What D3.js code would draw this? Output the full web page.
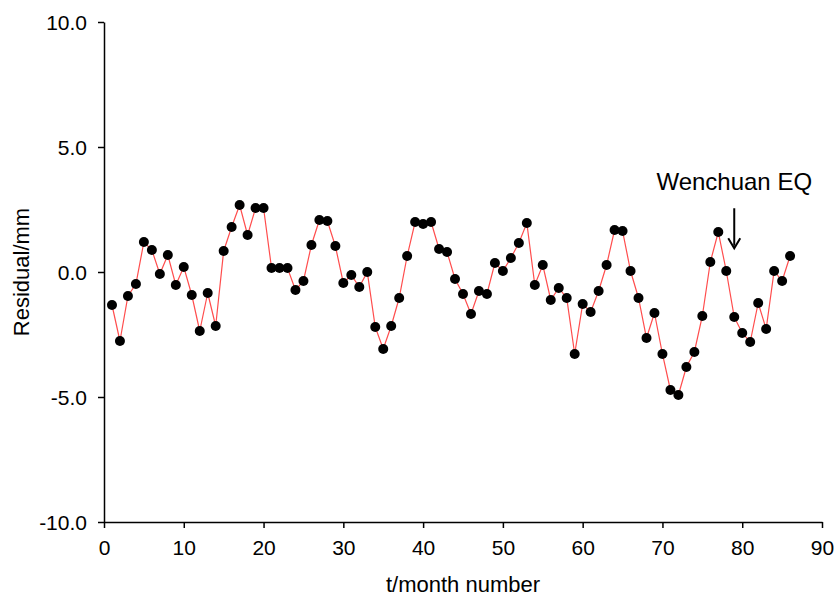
<!DOCTYPE html>
<html>
<head>
<meta charset="utf-8">
<script src="https://cdn.jsdelivr.net/npm/d3@7"></script>
<style>
    body { margin: 0; background: #fff; }
    text { font-family: "Liberation Sans", Arial, sans-serif; }
</style>
</head>
<body>
<div id="chart"></div>
<script>
// residual per month (mm)
const months = d3.range(1, 87);
const residuals = [
    -1.32, -2.76, -0.96, -0.48, 1.2, 0.88, -0.08, 0.68, -0.52, 0.2,
    -0.92, -2.36, -0.84, -2.16, 0.84, 1.8, 2.68, 1.48, 2.56, 2.56,
    0.16, 0.16, 0.16, -0.72, -0.36, 1.08, 2.08, 2.04, 1.04, -0.44,
    -0.12, -0.6, 0.0, -2.2, -3.08, -2.16, -1.04, 0.64, 2.0, 1.92,
    2.0, 0.92, 0.8, -0.28, -0.88, -1.68, -0.76, -0.88, 0.36, 0.04,
    0.56, 1.16, 1.96, -0.52, 0.28, -1.12, -0.64, -1.04, -3.28, -1.28,
    -1.6, -0.76, 0.28, 1.68, 1.64, 0.04, -1.04, -2.64, -1.64, -3.28,
    -4.72, -4.92, -3.8, -3.2, -1.76, 0.4, 1.6, 0.04, -1.8, -2.44,
    -2.8, -1.24, -2.28, 0.04, -0.36, 0.64
];
const xTicks = [0, 10, 20, 30, 40, 50, 60, 70, 80, 90];
const yTicks = [-10, -5, 0, 5, 10];
const yTickLabels = ["-10.0", "-5.0", "0.0", "5.0", "10.0"];
const quake = {month: 79, label: "Wenchuan EQ"};

const data = months.map((m, i) => ({t: m, v: residuals[i]}));

let width = 840, height = 598;
let margin = {top: 22, right: 18, bottom: 76, left: 104};
let w = width - margin.left - margin.right;
let h = height - margin.top - margin.bottom;

let svg = d3.select("#chart").append("svg")
    .attr("width", width)
    .attr("height", height)
    .append("g")
    .attr("transform", `translate(${margin.left}, ${margin.top})`);

let x = d3.scaleLinear().domain([0, 90]).range([0, w]);
let y = d3.scaleLinear().domain([-10, 10]).range([h, 0]);

// x axis
let xAxis = svg.append("g")
    .attr("transform", `translate(0, ${h})`)
    .call(d3.axisBottom(x).tickValues(xTicks).tickSize(6).tickSizeOuter(0).tickPadding(12));
xAxis.selectAll("text").style("font-size", "21px").attr("fill", "#000");

// y axis
let yAxis = svg.append("g")
    .call(d3.axisLeft(y).tickValues(yTicks).tickSize(6).tickSizeOuter(0).tickPadding(11)
        .tickFormat((d, i) => yTickLabels[i]));
yAxis.selectAll("text").style("font-size", "21px").attr("fill", "#000").attr("dy", "0.35em");

svg.selectAll(".domain, .tick line").attr("stroke", "#000").attr("stroke-width", 1.5);

// axis titles
svg.append("text")
    .attr("x", w / 2)
    .attr("y", h + 70)
    .attr("text-anchor", "middle")
    .style("font-size", "22px")
    .text("t/month number");

svg.append("text")
    .attr("transform", `translate(${-75}, ${h / 2}) rotate(-90)`)
    .attr("text-anchor", "middle")
    .style("font-size", "22px")
    .text("Residual/mm");

// line
let line = d3.line().x(d => x(d.t)).y(d => y(d.v));
svg.append("path")
    .datum(data)
    .attr("fill", "none")
    .attr("stroke", "#ff4d4d")
    .attr("stroke-width", 1.2)
    .attr("d", line);

// points
svg.selectAll(".dot")
    .data(data)
    .enter().append("circle")
    .attr("class", "dot")
    .attr("cx", d => x(d.t))
    .attr("cy", d => y(d.v))
    .attr("r", 5)
    .attr("fill", "#000");

// earthquake annotation
let qx = x(quake.month);
svg.append("text")
    .attr("x", qx)
    .attr("y", y(3.27))
    .attr("text-anchor", "middle")
    .style("font-size", "24px")
    .text(quake.label);

svg.append("line")
    .attr("x1", qx).attr("x2", qx)
    .attr("y1", y(2.55)).attr("y2", y(1.05))
    .attr("stroke", "#000")
    .attr("stroke-width", 2);

svg.append("path")
    .attr("d", `M${qx - 6},${y(1.35)} L${qx},${y(0.95)} L${qx + 6},${y(1.35)}`)
    .attr("fill", "none")
    .attr("stroke", "#000")
    .attr("stroke-width", 2);
</script>
</body>
</html>
